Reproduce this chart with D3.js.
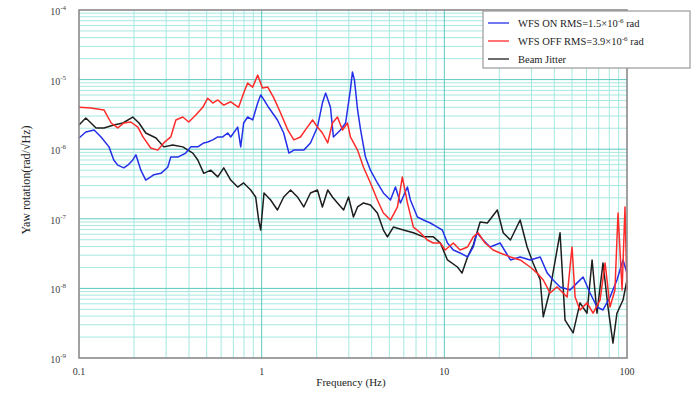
<!DOCTYPE html>
<html><head><meta charset="utf-8">
<script src="https://cdn.jsdelivr.net/npm/d3@7"></script>
<style>body{margin:0;background:#fff;} svg{display:block;}</style>
</head><body>
<svg id="c" width="696" height="394"></svg>
<script>
// ---- data ----
const onFreq = [0.1,0.109,0.121,0.132,0.146,0.155,0.163,0.176,0.185,0.197,0.205,0.218,0.232,0.247,0.257,0.281,0.306,0.318,0.348,0.384,0.409,0.447,0.482,0.507,0.540,0.575,0.612,0.652,0.677,0.739,0.768,0.797,0.838,0.893,0.951,0.988,1.03,1.09,1.22,1.32,1.41,1.50,1.70,1.85,2.02,2.15,2.24,2.38,2.47,2.70,2.88,3.06,3.14,3.22,3.35,3.48,3.70,3.94,4.30,4.64,5.07,5.40,5.75,6.28,6.52,7.12,7.68,8.38,9.16,9.75,10.4,11.2,12.2,13.4,14.4,15.1,16.3,17.8,20.2,23.0,26.0,29.5,33.5,36.6,39.4,43.0,48.8,53.3,57.5,62.8,68.5,73.9,80.7,88.1,95.1,100];
const onAmp = [1.45e-6,1.77e-6,1.89e-6,1.50e-6,1.08e-6,7.0e-7,5.9e-7,5.4e-7,5.9e-7,7.0e-7,8.3e-7,5.0e-7,3.6e-7,4.0e-7,4.3e-7,4.5e-7,5.5e-7,7.7e-7,7.7e-7,8.8e-7,1.08e-6,1.08e-6,1.23e-6,1.27e-6,1.36e-6,1.50e-6,1.50e-6,1.71e-6,1.50e-6,2.08e-6,1.08e-6,2.38e-6,2.90e-6,2.63e-6,4.6e-6,6.0e-6,5.1e-6,4.0e-6,2.63e-6,1.71e-6,8.8e-7,9.7e-7,9.7e-7,1.23e-6,2.08e-6,4.6e-6,6.4e-6,4.0e-6,1.50e-6,1.89e-6,2.38e-6,7.1e-6,1.29e-5,9.9e-6,3.66e-6,1.89e-6,7.7e-7,5.0e-7,3.27e-7,2.35e-7,1.86e-7,2.86e-7,1.69e-7,2.86e-7,1.86e-7,1.06e-7,9.6e-8,8.7e-8,7.6e-8,6.9e-8,4.49e-8,3.56e-8,3.23e-8,2.83e-8,3.94e-8,6.3e-8,4.96e-8,3.94e-8,4.49e-8,2.56e-8,2.83e-8,2.56e-8,2.83e-8,1.66e-8,1.32e-8,1.05e-8,9.5e-9,1.20e-8,1.46e-8,8.6e-9,5.4e-9,4.9e-9,7.5e-9,1.32e-8,2.56e-8,1.66e-8];

const offFreq = [0.1,0.116,0.137,0.150,0.163,0.176,0.192,0.210,0.224,0.247,0.270,0.291,0.318,0.339,0.370,0.399,0.436,0.476,0.507,0.540,0.575,0.620,0.677,0.748,0.797,0.838,0.893,0.951,1.01,1.08,1.16,1.27,1.39,1.50,1.63,1.78,1.90,2.02,2.15,2.30,2.44,2.60,2.77,2.95,3.06,3.35,3.61,3.94,4.30,4.64,5.07,5.54,5.89,6.28,6.77,7.39,8.07,8.71,9.51,10.1,11.2,12.2,13.4,14.4,15.3,16.7,18.5,20.2,23.0,26.0,29.5,32.2,34.8,37.9,41.4,47.0,50.0,52.0,55.3,60.4,65.2,71.2,75.9,80.7,85.9,89.3,94.0,97.5,100];
const offAmp = [4.0e-6,3.9e-6,3.66e-6,2.38e-6,2.02e-6,2.38e-6,2.46e-6,2.08e-6,1.50e-6,1.04e-6,9.7e-7,1.23e-6,1.50e-6,2.63e-6,2.90e-6,2.46e-6,3.10e-6,4.0e-6,5.4e-6,4.6e-6,5.1e-6,4.3e-6,4.8e-6,4.0e-6,6.4e-6,8.9e-6,7.8e-6,1.16e-5,7.6e-6,7.8e-6,5.6e-6,3.31e-6,1.89e-6,1.36e-6,1.50e-6,2.08e-6,2.63e-6,2.08e-6,1.71e-6,1.23e-6,2.38e-6,2.90e-6,1.89e-6,2.38e-6,1.50e-6,9.7e-7,5.5e-7,3.27e-7,1.86e-7,1.21e-7,9.6e-8,1.48e-7,4.0e-7,1.69e-7,7.6e-8,6.3e-8,4.96e-8,4.49e-8,4.49e-8,3.56e-8,4.49e-8,3.56e-8,3.94e-8,5.5e-8,6.3e-8,4.49e-8,3.56e-8,3.23e-8,2.83e-8,2.56e-8,2.03e-8,1.66e-8,1.32e-8,8.6e-9,1.05e-8,7.5e-9,3.94e-8,7.5e-9,4.9e-9,6.2e-9,4.4e-9,6.8e-9,2.32e-8,5.4e-9,9.5e-9,1.21e-7,9.5e-9,1.48e-7,9.5e-9];

const jitFreq = [0.1,0.109,0.124,0.137,0.155,0.174,0.197,0.213,0.232,0.264,0.291,0.326,0.370,0.420,0.447,0.482,0.526,0.575,0.620,0.677,0.739,0.797,0.871,0.927,0.963,0.988,1.03,1.12,1.22,1.32,1.44,1.57,1.70,1.85,2.02,2.15,2.30,2.44,2.60,2.81,2.99,3.18,3.35,3.61,3.94,4.30,4.64,4.88,5.26,5.97,6.77,7.68,8.71,9.51,10.4,11.8,12.5,13.4,14.4,15.7,17.2,19.5,21.0,23.0,26.0,28.4,30.6,33.5,34.8,37.9,43.0,45.8,50.7,55.3,60.4,64.4,68.5,73.9,78.7,83.8,88.1,95.1,100];
const jitAmp = [2.23e-6,2.81e-6,2.02e-6,2.02e-6,2.23e-6,2.38e-6,2.90e-6,2.38e-6,1.71e-6,1.45e-6,1.08e-6,1.15e-6,1.08e-6,8.8e-7,7.0e-7,4.5e-7,5.0e-7,4.0e-7,5.4e-7,3.6e-7,2.86e-7,3.27e-7,2.59e-7,2.06e-7,9.6e-8,6.9e-8,2.35e-7,1.86e-7,1.34e-7,2.06e-7,2.59e-7,2.06e-7,1.48e-7,2.35e-7,2.59e-7,1.48e-7,2.59e-7,2.06e-7,1.69e-7,1.34e-7,2.06e-7,1.06e-7,1.48e-7,1.69e-7,1.58e-7,1.21e-7,6.9e-8,5.5e-8,7.6e-8,6.9e-8,6.3e-8,5.5e-8,5.5e-8,4.49e-8,2.56e-8,2.03e-8,1.66e-8,2.83e-8,4.2e-8,9.0e-8,8.7e-8,1.34e-7,6.3e-8,4.96e-8,9.6e-8,3.94e-8,2.32e-8,1.32e-8,3.9e-9,9.5e-9,6.3e-8,3.5e-9,2.29e-9,6.2e-9,4.4e-9,2.56e-8,4.4e-9,2.32e-8,5.4e-9,1.64e-9,4.4e-9,6.8e-9,1.32e-8];

const xTicks = [0.1, 1, 10, 100];
const xTickLabels = ["0.1", "1", "10", "100"];
const yTicks = [1e-4, 1e-5, 1e-6, 1e-7, 1e-8, 1e-9];
const yTickExps = ["-4", "-5", "-6", "-7", "-8", "-9"];
const seriesNames = ["WFS ON RMS=1.5×10", "WFS OFF RMS=3.9×10", "Beam Jitter"];
const seriesExps = ["-6", "-6", ""];

// ---- chart ----
const svg = d3.select("#c");
const L = 79, R = 627, T = 10, B = 358;
const x = d3.scaleLog().domain([0.1, 100]).range([L, R]);
const y = d3.scaleLog().domain([1e-9, 1e-4]).range([B, T]);
const serif = "'Liberation Serif','Times New Roman',serif";

// grid
const g = svg.append("g");
const minorX = [], minorY = [];
for (let d = -1; d < 2; d++) for (let m = 2; m <= 9; m++) minorX.push(m * Math.pow(10, d));
for (let d = -9; d < -4; d++) for (let m = 2; m <= 9; m++) minorY.push(m * Math.pow(10, d));
g.selectAll(".mx").data(minorX).join("line")
  .attr("x1", d => x(d)).attr("x2", d => x(d)).attr("y1", T).attr("y2", B)
  .attr("stroke", "#a6e8e1").attr("stroke-width", 1);
g.selectAll(".my").data(minorY).join("line")
  .attr("y1", d => y(d)).attr("y2", d => y(d)).attr("x1", L).attr("x2", R)
  .attr("stroke", "#a6e8e1").attr("stroke-width", 1);
g.selectAll(".Mx").data(xTicks.slice(1, -1)).join("line")
  .attr("x1", d => x(d)).attr("x2", d => x(d)).attr("y1", T).attr("y2", B)
  .attr("stroke", "#5ec9c0").attr("stroke-width", 1);
g.selectAll(".My").data(yTicks.slice(1, -1)).join("line")
  .attr("y1", d => y(d)).attr("y2", d => y(d)).attr("x1", L).attr("x2", R)
  .attr("stroke", "#5ec9c0").attr("stroke-width", 1);

// lines
const line = d3.line().x(d => x(d[0])).y(d => y(d[1]));
const series = [
  {f: jitFreq, a: jitAmp, c: "#1e1e1e"},
  {f: onFreq, a: onAmp, c: "#2430e8"},
  {f: offFreq, a: offAmp, c: "#ff2b2b"}
];
series.forEach(s => {
  svg.append("path").datum(s.f.map((f, i) => [f, s.a[i]]))
    .attr("d", line).attr("fill", "none").attr("stroke", s.c)
    .attr("stroke-width", 1.5).attr("stroke-linejoin", "round");
});

// frame
svg.append("rect").attr("x", L).attr("y", T).attr("width", R - L).attr("height", B - T)
  .attr("fill", "none").attr("stroke", "#8a8a8a").attr("stroke-width", 1.6);

// x ticks labels
svg.selectAll(".xt").data(xTicks).join("text")
  .attr("x", d => x(d)).attr("y", 375).attr("text-anchor", "middle")
  .attr("font-family", serif).attr("font-size", 10).attr("fill", "#333")
  .text((d, i) => xTickLabels[i]);

// y tick labels
const yt = svg.selectAll(".yt").data(yTicks).join("text")
  .attr("x", 66).attr("y", d => y(d) + 5).attr("text-anchor", "end")
  .attr("font-family", serif).attr("font-size", 10).attr("fill", "#444");
yt.append("tspan").text("10");
yt.append("tspan").attr("dy", -5).attr("font-size", 7).text((d, i) => yTickExps[i]);

// axis titles
svg.append("text").attr("x", L + (R - L) / 2 - 2).attr("y", 386).attr("text-anchor", "middle")
  .attr("font-family", serif).attr("font-size", 11).attr("fill", "#222").text("Frequency (Hz)");
svg.append("text").attr("transform", "translate(30,180) rotate(-90)").attr("text-anchor", "middle")
  .attr("font-family", serif).attr("font-size", 12).attr("fill", "#222").text("Yaw rotation(rad/√Hz)");

// legend
const lg = svg.append("g");
lg.append("rect").attr("x", 483).attr("y", 11).attr("width", 207).attr("height", 57)
  .attr("fill", "#fff").attr("stroke", "#9a9a9a").attr("stroke-width", 1.2);
const lc = ["#2430e8", "#ff2b2b", "#1e1e1e"];
seriesNames.forEach((n, i) => {
  const yy = 23 + i * 18;
  lg.append("line").attr("x1", 488).attr("x2", 509).attr("y1", yy).attr("y2", yy)
    .attr("stroke", lc[i]).attr("stroke-width", 1.3);
  const t = lg.append("text").attr("x", 518).attr("y", yy + 4)
    .attr("font-family", serif).attr("font-size", 10.5).attr("fill", "#222");
  t.append("tspan").text(n);
  if (seriesExps[i]) {
    t.append("tspan").attr("dy", -4).attr("font-size", 7).text(seriesExps[i]);
    t.append("tspan").attr("dy", 4).text(" rad");
  }
});
</script>
</body></html>
